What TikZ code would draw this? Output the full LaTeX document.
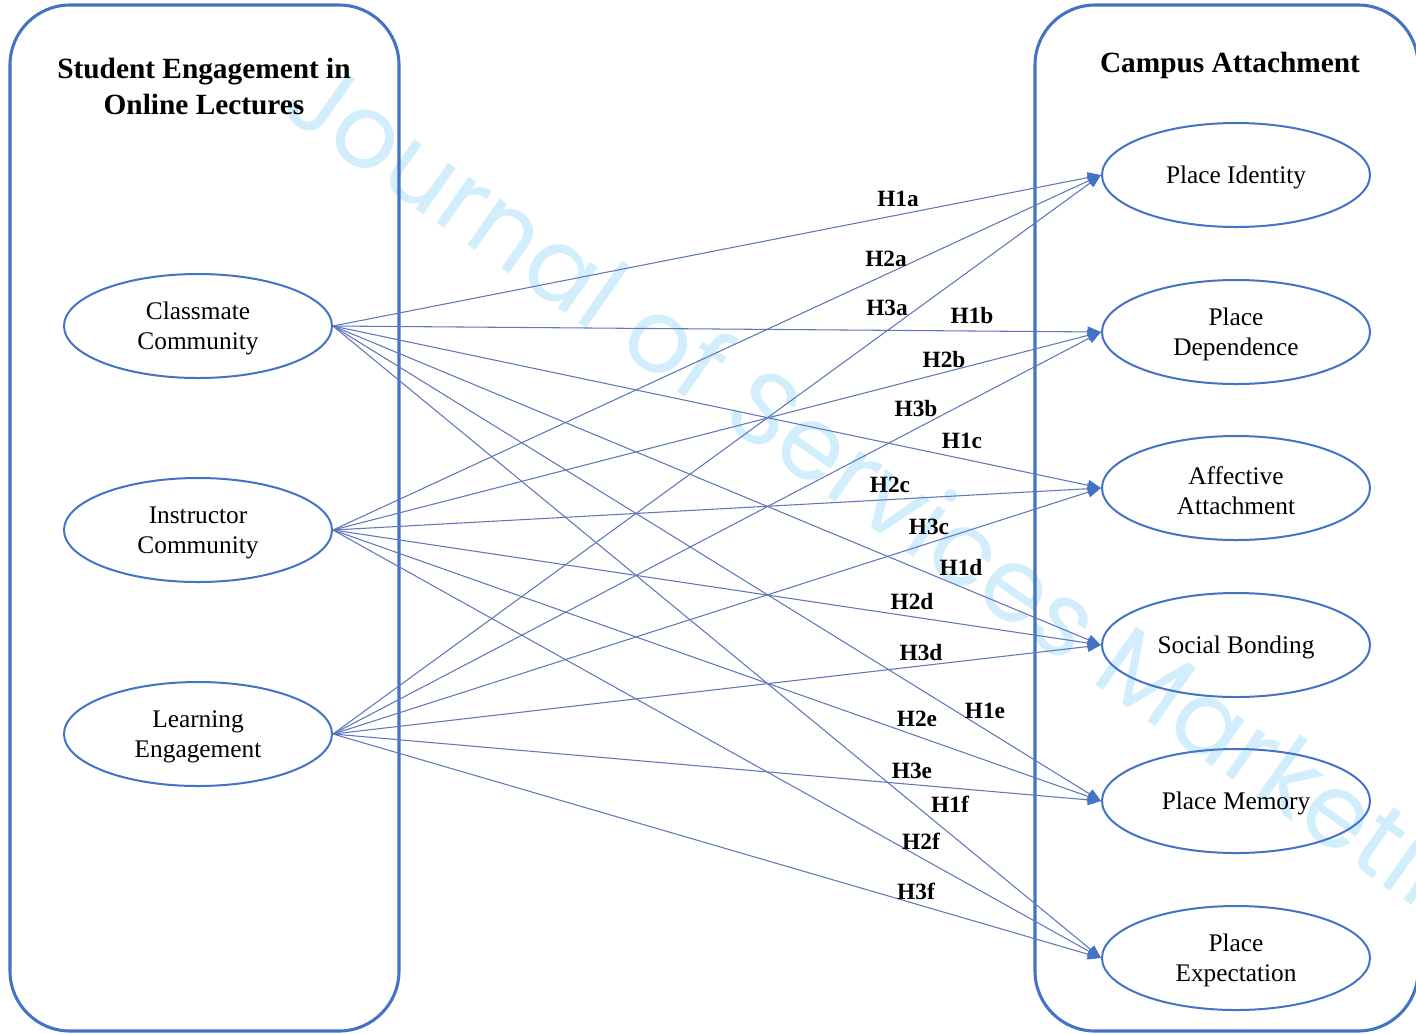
\documentclass[tikz,border=0pt]{standalone}
\usepackage{fontspec}
\setmainfont{Liberation Serif}
\newfontfamily\wmfont{Poppins}
\usetikzlibrary{shapes.geometric,arrows.meta}
\definecolor{boxblue}{RGB}{68,114,196}
\definecolor{linkblue}{RGB}{96,120,186}
\definecolor{wmblue}{RGB}{210,238,252}
\newcommand\fst{\rule{0pt}{17.5pt}}
\begin{document}
\begin{tikzpicture}[x=0.75pt,y=-0.75pt,
  panel/.style={draw=boxblue,line width=2.3pt,rounded corners=45pt},
  factor/.style={ellipse,draw=boxblue,line width=1.5pt,minimum width=201pt,minimum height=78pt,inner sep=0pt,align=center,font=\fontsize{19}{22.5}\selectfont},
  heading/.style={align=center,font=\fontsize{22}{27}\selectfont\bfseries},
  hyp/.style={font=\fontsize{17.5}{20}\selectfont\bfseries,inner sep=0pt},
  link/.style={draw=linkblue,line width=0.8pt,-{Triangle[length=10pt,width=8pt,color=boxblue]}},
  wm/.style={text=wmblue,font=\wmfont\fontsize{77}{77}\selectfont,inner sep=0pt}
]
\useasboundingbox (0,0) rectangle (1416,1033);
% watermark
\node[wm,anchor=base west,rotate=-35] (wmark) at (278,112) {Journal of Services Marketing};
% panels
\draw[panel] (10,5) rectangle (399,1031);
\draw[panel] (1035,5) rectangle (1418,1031);
\node[heading] (lt) at (204,86) {Student Engagement in\\Online Lectures};
\node[heading] (rt) at (1230,65) {Campus Attachment};
% left factors
\node[factor] (cc) at (198,326) {\fst Classmate\\Community};
\node[factor] (ic) at (198,530) {\fst Instructor\\Community};
\node[factor] (le) at (198,734) {\fst Learning\\Engagement};
% right factors
\node[factor] (pi) at (1236,175) {\fst Place Identity};
\node[factor] (pd) at (1236,332) {\fst Place\\Dependence};
\node[factor] (aa) at (1236,488) {\fst Affective\\Attachment};
\node[factor] (sb) at (1236,645) {\fst Social Bonding};
\node[factor] (pm) at (1236,801) {\fst Place Memory};
\node[factor] (pe) at (1236,958) {\fst Place\\Expectation};
% connectors
\foreach \s in {cc,ic,le}{
  \foreach \t in {pi,pd,aa,sb,pm,pe}{
    \draw[link] (\s.east) -- (\t.west);
  }
}
% hypothesis labels
\node[hyp] (h1a) at (898,199) {H1a};
\node[hyp] (h2a) at (886,259) {H2a};
\node[hyp] (h3a) at (887,308) {H3a};
\node[hyp] (h1b) at (972,316) {H1b};
\node[hyp] (h2b) at (944,360) {H2b};
\node[hyp] (h3b) at (916,409) {H3b};
\node[hyp] (h1c) at (962,441) {H1c};
\node[hyp] (h2c) at (890,485) {H2c};
\node[hyp] (h3c) at (929,527) {H3c};
\node[hyp] (h1d) at (961,568) {H1d};
\node[hyp] (h2d) at (912,602) {H2d};
\node[hyp] (h3d) at (921,653) {H3d};
\node[hyp] (h1e) at (985,711) {H1e};
\node[hyp] (h2e) at (917,719) {H2e};
\node[hyp] (h3e) at (912,771) {H3e};
\node[hyp] (h1f) at (950,804) {H1f};
\node[hyp] (h2f) at (921,841) {H2f};
\node[hyp] (h3f) at (916,891) {H3f};
\end{tikzpicture}
\end{document}
